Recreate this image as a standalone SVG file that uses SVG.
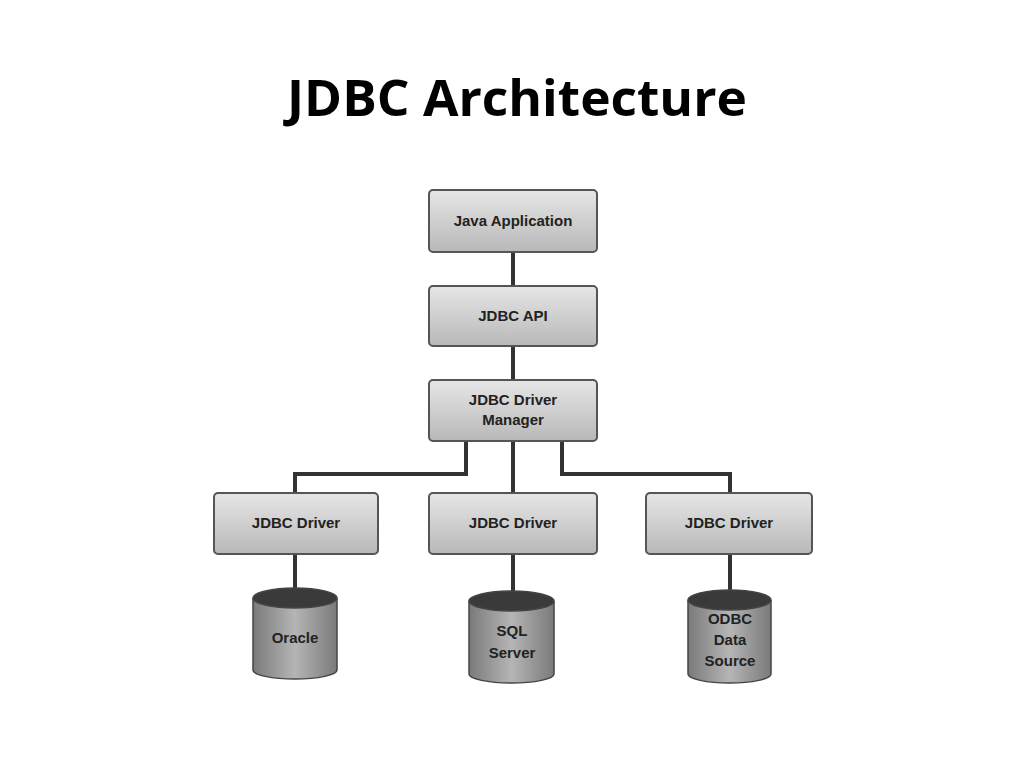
<svg xmlns="http://www.w3.org/2000/svg" width="1024" height="768" viewBox="0 0 1024 768">
<defs>
<linearGradient id="g" x1="0" y1="0" x2="0" y2="1"><stop offset="0" stop-color="#e6e6e6"/><stop offset="1" stop-color="#b8b8b8"/></linearGradient>
<linearGradient id="c" x1="0" y1="0" x2="1" y2="0"><stop offset="0" stop-color="#7a7a7a"/><stop offset="0.5" stop-color="#b5b5b5"/><stop offset="1" stop-color="#7a7a7a"/></linearGradient>
<style>
.b{fill:url(#g);stroke:#555;stroke-width:2}
.t{font-family:"Liberation Sans",Arial,sans-serif;font-weight:bold;font-size:15px;fill:#222;text-anchor:middle}
.w{fill:none;stroke:#333;stroke-width:4}
.cy{fill:url(#c);stroke:#444;stroke-width:1.5}
.top{fill:#3a3a3a;stroke:#444;stroke-width:1.5}
</style>
</defs>
<rect width="1024" height="768" fill="#fff"/>
<text x="517" y="116" font-family="Open Sans,'Liberation Sans',sans-serif" font-weight="bold" font-size="50" text-anchor="middle" fill="#000" textLength="460" lengthAdjust="spacingAndGlyphs">JDBC Architecture</text>
<g id="connectors">
<path class="w" d="M513 252V286M513 346V380M513 441V493M466 441V474H295V493M562 441V474H730V493M295 554V592M513 554V594M730 554V594"/>
</g>
<g id="java"><rect class="b" x="429" y="190" width="168" height="62" rx="4"/><text class="t" x="513" y="226">Java Application</text></g>
<g id="api"><rect class="b" x="429" y="286" width="168" height="60" rx="4"/><text class="t" x="513" y="321">JDBC API</text></g>
<g id="manager"><rect class="b" x="429" y="380" width="168" height="61" rx="4"/><text class="t" x="513" y="405">JDBC Driver</text><text class="t" x="513" y="425">Manager</text></g>
<g id="d1"><rect class="b" x="214" y="493" width="164" height="61" rx="4"/><text class="t" x="296" y="528">JDBC Driver</text></g>
<g id="d2"><rect class="b" x="429" y="493" width="168" height="61" rx="4"/><text class="t" x="513" y="528">JDBC Driver</text></g>
<g id="d3"><rect class="b" x="646" y="493" width="166" height="61" rx="4"/><text class="t" x="729" y="528">JDBC Driver</text></g>
<g id="oracle"><path class="cy" d="M253 598V670A42 9 0 0 0 337 670V598"/><ellipse class="top" cx="295" cy="598" rx="42" ry="10"/><text class="t" x="295" y="643">Oracle</text></g>
<g id="sql"><path class="cy" d="M469 601V674A42.5 9 0 0 0 554 674V601"/><ellipse class="top" cx="511.5" cy="601" rx="42.5" ry="10"/><text class="t" x="512" y="636">SQL</text><text class="t" x="512" y="658">Server</text></g>
<g id="odbc"><path class="cy" d="M688 600V674A41.5 9 0 0 0 771 674V600"/><ellipse class="top" cx="729.5" cy="600" rx="41.5" ry="10"/><text class="t" x="730" y="624">ODBC</text><text class="t" x="730" y="645">Data</text><text class="t" x="730" y="666">Source</text></g>
</svg>
